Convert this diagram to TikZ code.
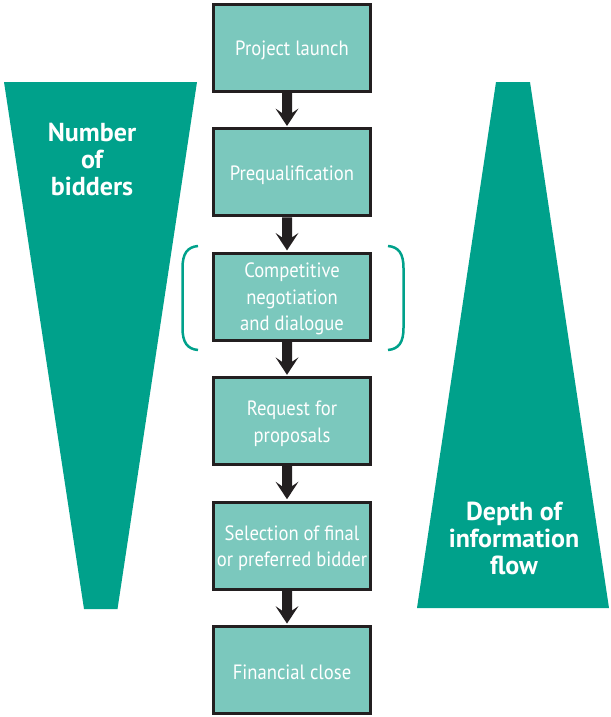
\documentclass[tikz,border=0pt]{standalone}
\usepackage{fontspec}
\setmainfont{PT Sans}[FakeStretch=0.9]
\newfontfamily\lblfont{PT Sans}
\usetikzlibrary{calc}
\definecolor{boxfill}{HTML}{7BC8BD}
\definecolor{darkteal}{HTML}{00A18B}
\definecolor{boxline}{HTML}{231F20}
\newcommand\flowarrow[2]{\fill[boxline] ($(#1.south)+(-10,0)$) -- ++(0,20) -- ++(-6.5,-4.5) -- ++(11.5,17.5) -- ++(11.5,-17.5) -- ++(-6.5,4.5) -- ++(0,-20) -- cycle;}
\begin{document}
\begin{tikzpicture}[x=1pt,y=-1pt,
  stepbox/.style={draw=boxline, line width=3pt, fill=boxfill, minimum width=157pt, minimum height=87pt, inner sep=0pt},
  boxtext/.style={align=center, inner sep=0pt, text=white, yshift=-2.5pt, font=\fontsize{20.7}{26.5}\selectfont},
  lbl/.style={text=white, align=center, inner sep=0pt, font=\lblfont\bfseries\fontsize{26}{27}\selectfont},
  bracket/.style={draw=darkteal, line width=2.5pt}]
\useasboundingbox (0,0) rectangle (610,717);
% funnels
\fill[darkteal] (4,82) -- (197,82) -- (117.5,609) -- (84,609) -- cycle;
\fill[darkteal] (496,82) -- (530,82) -- (609,608) -- (417,608) -- cycle;
\node[lbl] (nb) at (92,160) {Number\\of\\bidders};
\node[lbl] (df) at (514,538) {Depth of\\information\\flow};
% boxes
\node[stepbox] (b1) at (292,48) {};
\node[stepbox] (b2) at (292,172.4) {};
\node[stepbox] (b3) at (292,296.8) {};
\node[stepbox] (b4) at (292,421.2) {};
\node[stepbox] (b5) at (292,545.6) {};
\node[stepbox] (b6) at (292,670) {};
\node[boxtext] (t1) at (b1) {Project launch};
\node[boxtext] (t2) at (b2) {Prequalification};
\node[boxtext] (t3) at (b3) {Competitive\\negotiation\\and dialogue};
\node[boxtext] (t4) at (b4) {Request for\\proposals};
\node[boxtext] (t5) at (b5) {Selection of final\\or preferred bidder};
\node[boxtext] (t6) at (b6) {Financial close};
% arrows
\flowarrow{b1}{b2}
\flowarrow{b2}{b3}
\flowarrow{b3}{b4}
\flowarrow{b4}{b5}
\flowarrow{b5}{b6}
% brackets
\draw[bracket] (198,246) .. controls (187,247) and (182.5,254) .. (182.5,268) -- (182.5,328) .. controls (182.5,342) and (187,349) .. (198,350);
\draw[bracket] (388,246) .. controls (399,247) and (403.5,254) .. (403.5,268) -- (403.5,328) .. controls (403.5,342) and (399,349) .. (388,350);
\end{tikzpicture}
\end{document}
